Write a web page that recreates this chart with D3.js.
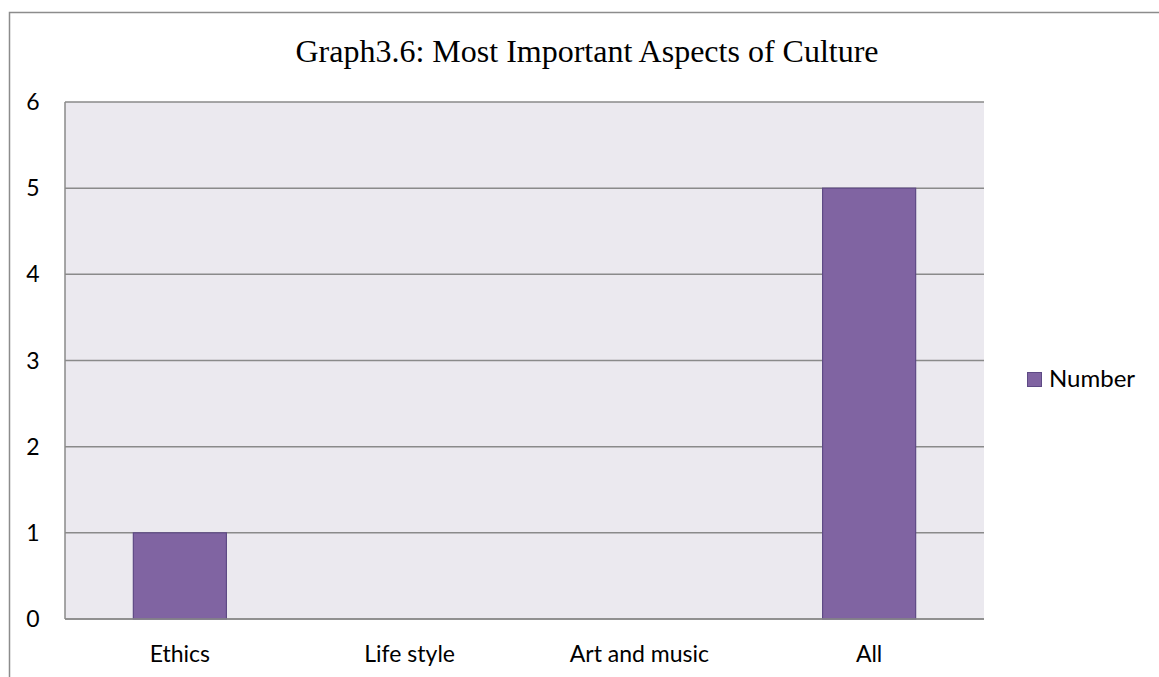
<!DOCTYPE html>
<html>
<head>
<meta charset="utf-8">
<script src="https://cdn.jsdelivr.net/npm/d3@7"></script>
<style>
  html, body { margin: 0; padding: 0; background: #fff; }
  svg { display: block; }
</style>
</head>
<body>
<svg id="chart" width="1159" height="677"></svg>
<script>
// Survey answers: which aspect of culture matters most
const categories = ["Ethics", "Life style", "Art and music", "All"];
const counts = [1, 0, 0, 5];
const yTicks = [0, 1, 2, 3, 4, 5, 6];
const seriesName = "Number";
const chartTitle = "Graph3.6: Most Important Aspects of Culture";

const svg = d3.select("#chart");
const W = 1159, H = 677;
const plot = { left: 65, top: 102, right: 984, bottom: 619 };

const barFill = "#8064A2", barStroke = "#5E4A85";
const gridColor = "#8A8A8A";
const labelFont = "Lato, 'Open Sans', sans-serif";

// Chart frame
svg.append("rect")
  .attr("x", 9.5).attr("y", 12.5)
  .attr("width", W + 10).attr("height", H + 10)
  .attr("fill", "#fff").attr("stroke", "#8C8C8C").attr("stroke-width", 1.5);

// Title
svg.append("text")
  .attr("x", 587).attr("y", 62)
  .attr("text-anchor", "middle")
  .attr("font-family", "'Liberation Serif', 'Times New Roman', serif")
  .attr("font-size", 32)
  .attr("fill", "#000")
  .text(chartTitle);

const x = d3.scaleBand().domain(categories).range([plot.left, plot.right]);
const y = d3.scaleLinear().domain([0, 6]).range([plot.bottom, plot.top]);

// Plot area background
svg.append("rect")
  .attr("x", plot.left).attr("y", plot.top)
  .attr("width", plot.right - plot.left).attr("height", plot.bottom - plot.top)
  .attr("fill", "#EBE9EF");

// Horizontal gridlines
svg.append("g")
  .selectAll("line")
  .data(yTicks)
  .join("line")
  .attr("x1", plot.left).attr("x2", plot.right)
  .attr("y1", d => y(d)).attr("y2", d => y(d))
  .attr("stroke", gridColor).attr("stroke-width", 1.5);

// Plot area left edge
svg.append("line")
  .attr("x1", plot.left).attr("x2", plot.left)
  .attr("y1", plot.top).attr("y2", plot.bottom)
  .attr("stroke", gridColor).attr("stroke-width", 1.5);

// Bars
const barW = x.bandwidth() * 0.405;
svg.append("g")
  .selectAll("rect")
  .data(categories.map((c, i) => ({ c, v: counts[i] })).filter(d => d.v > 0))
  .join("rect")
  .attr("x", d => x(d.c) + (x.bandwidth() - barW) / 2)
  .attr("y", d => y(d.v))
  .attr("width", barW)
  .attr("height", d => y(0) - y(d.v))
  .attr("fill", barFill)
  .attr("stroke", barStroke)
  .attr("stroke-width", 1.2);

// Baseline drawn over the bars
svg.append("line")
  .attr("x1", plot.left).attr("x2", plot.right)
  .attr("y1", y(0)).attr("y2", y(0))
  .attr("stroke", gridColor).attr("stroke-width", 1.5);

// Y axis labels
svg.append("g")
  .selectAll("text")
  .data(yTicks)
  .join("text")
  .attr("x", 33)
  .attr("y", d => y(d) + 8)
  .attr("text-anchor", "middle")
  .attr("font-family", labelFont)
  .attr("font-size", 23)
  .attr("fill", "#000")
  .text(d => d);

// X axis labels
svg.append("g")
  .selectAll("text")
  .data(categories)
  .join("text")
  .attr("x", d => x(d) + x.bandwidth() / 2)
  .attr("y", 662)
  .attr("text-anchor", "middle")
  .attr("font-family", labelFont)
  .attr("font-size", 23)
  .attr("fill", "#000")
  .text(d => d);

// Legend
const legend = svg.append("g").attr("transform", "translate(1027,372)");
legend.append("rect")
  .attr("x", 0.5).attr("y", 0.5).attr("width", 14).attr("height", 14)
  .attr("fill", barFill).attr("stroke", barStroke).attr("stroke-width", 1);
legend.append("text")
  .attr("x", 22).attr("y", 15)
  .attr("font-family", labelFont)
  .attr("font-size", 24)
  .attr("fill", "#000")
  .text(seriesName);
</script>
</body>
</html>
